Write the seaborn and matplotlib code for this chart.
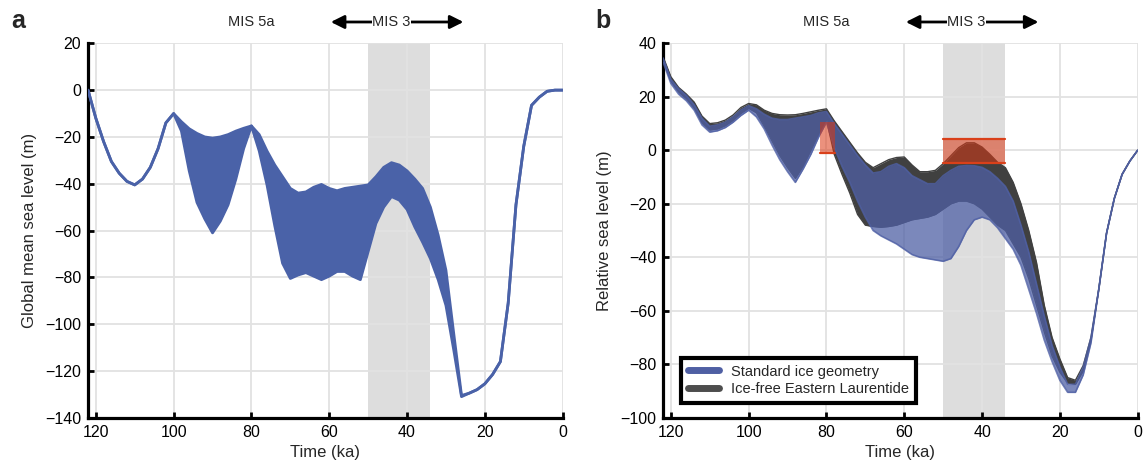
import matplotlib
matplotlib.use("Agg")
import matplotlib.pyplot as plt
import seaborn as sns
import pandas as pd
from matplotlib.lines import Line2D

# ====================
# DONNÉES
# ====================

temps = [122, 120, 118, 116, 114, 112, 110, 108, 106, 104, 102, 100,
         98, 96, 94, 92, 90, 88, 86, 84, 82, 80,
         78, 76, 74, 72, 70, 68, 66, 64, 62, 60,
         58, 56, 54, 52, 50, 48, 46, 44, 42, 40,
         38, 36, 34, 32, 30, 28, 26, 24, 22, 20,
         18, 16, 14, 12, 10, 8, 6, 4, 2, 0]

# panneau a : niveau marin global moyen, enveloppe de l'ensemble
gmsl_haut = [0, -12, -22, -30.5, -35.5, -39, -40.5, -38, -33, -25, -14, -10,
             -13.5, -16.5, -18.5, -20, -20.5, -20, -19, -17.5, -16.3, -15.3,
             -19, -26, -32, -37, -42, -44, -43.5, -41.5, -40.3, -42,
             -43, -42, -41.5, -41, -40.5, -37, -33, -31, -32, -34.5,
             -38, -42, -50, -62, -77, -104, -130.5, -129.5, -128, -125.5,
             -121.5, -116, -91, -49, -24, -6.5, -3, -0.5, 0, 0]
gmsl_bas = [0, -12, -22, -30.5, -35.5, -39, -40.5, -38, -33, -25, -14, -10,
            -17.5, -34.5, -48, -55, -61, -56, -49, -38, -25, -15.3,
            -26, -40.5, -58, -74, -80.5, -79, -78, -79.5, -81, -79.5,
            -77.5, -77.5, -79.5, -81, -69, -57, -50, -45.5, -47, -51,
            -58.5, -65, -72, -81, -92, -111, -131, -129.5, -128, -125.5,
            -121.5, -116, -91, -49, -24, -6.5, -3, -0.5, 0, 0]

# panneau b : niveau marin relatif, géométrie standard (bleu)
std_haut = [34.5, 26.5, 23, 20.5, 17, 12, 9, 9.5, 10.5, 12.5, 15, 16.7,
            15.5, 13.5, 12, 11.5, 11.5, 12, 12.5, 13, 14, 14.5,
            10, 6, 2, -2, -5.5, -8.5, -8, -6, -5, -6.5,
            -9.5, -11, -12.5, -12.5, -9.5, -7.5, -6, -5.7, -5.8, -6.4,
            -8, -10.5, -13.5, -19, -28, -38, -50, -62, -73, -81,
            -87.5, -87.5, -81, -70, -52, -31, -18, -9, -4, 0]
std_bas = [33, 25, 21, 18.5, 15, 9.5, 6.8, 7.3, 8.5, 10.5, 13, 15,
           12.5, 8, 2, -3.5, -8, -12, -7, -1.5, 5, 10.5,
           1, -6, -12, -19, -25, -30, -32, -33.5, -35, -37,
           -39, -40, -40.5, -41, -41.5, -40.5, -36, -30, -26, -25,
           -26, -29, -33, -37, -43, -52, -61, -71, -79, -86,
           -90.5, -90.5, -84, -72, -52, -31, -18, -9, -4, 0]

# panneau b : Laurentide orientale sans glace (gris)
glace_haut = [35, 27.5, 23.5, 21, 18, 12.8, 10, 10.3, 11.3, 13.2, 16, 17.5,
              17, 15, 13.8, 13.3, 13.2, 13.3, 13.8, 14.4, 15, 15.5,
              11, 7, 3, -1, -4.5, -6.5, -5, -3.5, -2.7, -2.5,
              -5.5, -8, -8, -7.5, -5, -2, 1, 2.8, 2.8, 1.2,
              -1.5, -4.5, -6.5, -12, -20, -30, -42, -58, -70, -78,
              -85, -86, -80.5, -70, -52, -31, -18, -9, -4, 0]
glace_bas = [33.5, 25.8, 21.8, 19.3, 15.8, 10.3, 7.6, 8, 9.2, 11.2, 13.8, 15.7,
             14, 9, 3.5, -2, -6.5, -10.5, -6, 0, 6, 11.5,
             -1.5, -9, -16, -24, -28, -28.5, -28.8, -28.5, -28, -27,
             -26, -25.5, -25, -24, -22, -20, -19, -19, -20, -22,
             -25, -28, -30, -35, -40, -48, -58, -68, -77, -83,
             -87, -87.5, -82.5, -71, -52, -31, -18, -9, -4, 0]

# fenêtre MIS 3 (ka) et contraintes de terrain (ka début, ka fin, bas, haut)
mis3 = (50, 34)
boite_5a = (81.7, 77.9, -1.1, 10.7)
boite_3 = (50, 34, -4.6, 4.4)

# ====================
# CONFIGURATION
# ====================

sns.set_style("white")
plt.rcParams["font.family"] = ["Liberation Sans", "DejaVu Sans"]

BLEU_A = "#4a62a8"
BLEU_B = "#4f60a5"
GRIS = "#404040"
ROUGE = "#db3713"
TRAIT_ROUGE = "#d9401a"

df_a = pd.DataFrame({"temps": temps, "haut": gmsl_haut, "bas": gmsl_bas})
df_b = pd.DataFrame({"temps": temps, "std_haut": std_haut, "std_bas": std_bas,
                     "glace_haut": glace_haut, "glace_bas": glace_bas})


def styliser_axe(ax, ylim, yticks):
    """Axes façon figure de revue : axes gauche/bas épais, grille claire"""
    ax.set_xlim(122, 0)
    ax.set_ylim(*ylim)
    ax.set_xticks(range(120, -1, -20))
    ax.set_yticks(yticks)
    ax.set_yticklabels([str(v).replace("-", "\u2212") for v in yticks])
    ax.grid(True, color="#e2e2e2", lw=1.3)
    ax.set_axisbelow(True)
    for s in ["top", "right"]:
        ax.spines[s].set_visible(False)
    for s in ["left", "bottom"]:
        ax.spines[s].set_linewidth(2.3)
        ax.spines[s].set_color("black")
    ax.tick_params(bottom=True, left=True, direction="in", length=4.5, width=2,
                   labelsize=11.5, pad=5, colors="black")
    ax.axvspan(*mis3, color="#dddddd", lw=0, zorder=0.1)


def annoter_mis(ax):
    """Étiquettes MIS 5a / MIS 3 au-dessus du panneau"""
    y = 1.057
    ax.text(80, y, "MIS 5a", transform=ax.get_xaxis_transform(),
            ha="center", va="center", fontsize=10.5)
    ax.annotate("", xy=(59.6, y), xytext=(25.5, y),
                xycoords=ax.get_xaxis_transform(),
                textcoords=ax.get_xaxis_transform(),
                arrowprops=dict(arrowstyle="<|-|>", color="black", lw=2,
                                mutation_scale=20, shrinkA=0, shrinkB=0),
                annotation_clip=False)
    ax.text(44, y, "MIS 3", transform=ax.get_xaxis_transform(),
            ha="center", va="center", fontsize=10.5,
            bbox=dict(facecolor="white", edgecolor="none", pad=0.5))


# ====================
# FIGURE
# ====================

fig = plt.figure(figsize=(11.45, 4.72), dpi=100)
ax_a = fig.add_axes([0.0769, 0.115, 0.4145, 0.7932])
ax_b = fig.add_axes([0.5791, 0.115, 0.4145, 0.7932])

# --- panneau a ---
styliser_axe(ax_a, (-140, 20), list(range(20, -141, -20)))
ax_a.fill_between(df_a["temps"], df_a["bas"], df_a["haut"],
                  color=BLEU_A, lw=0, zorder=2)
for col in ["haut", "bas"]:
    sns.lineplot(data=df_a, x="temps", y=col, ax=ax_a, color=BLEU_A,
                 lw=2, sort=False, zorder=3)
ax_a.set_ylabel("Global mean sea level (m)", fontsize=12, labelpad=6)
ax_a.set_xlabel("Time (ka)", fontsize=12, labelpad=4)
annoter_mis(ax_a)

# --- panneau b ---
styliser_axe(ax_b, (-100, 40), list(range(40, -101, -20)))
ax_b.fill_between(df_b["temps"], df_b["glace_bas"], df_b["glace_haut"],
                  color=GRIS, lw=0, zorder=2)
for col in ["glace_haut", "glace_bas"]:
    sns.lineplot(data=df_b, x="temps", y=col, ax=ax_b, color=GRIS,
                 lw=1, sort=False, zorder=2)
ax_b.fill_between(df_b["temps"], df_b["std_bas"], df_b["std_haut"],
                  color=BLEU_B, alpha=0.75, lw=0, zorder=3)
for col in ["std_haut", "std_bas"]:
    sns.lineplot(data=df_b, x="temps", y=col, ax=ax_b, color=BLEU_B,
                 alpha=0.8, lw=1.2, sort=False, zorder=3)

# contraintes de niveau marin (boîtes rouges)
t0, t1, bas, haut = boite_5a
ax_b.fill_between([t0, t1], [bas, bas], [haut, haut], color=ROUGE,
                  alpha=0.55, lw=0, zorder=4)
ax_b.plot([t0, t1], [bas, bas], color=TRAIT_ROUGE, lw=1.6, zorder=5)
t0, t1, bas, haut = boite_3
ax_b.fill_between([t0, t1], [bas, bas], [haut, haut], color=ROUGE,
                  alpha=0.55, lw=0, zorder=4)
ax_b.plot([t0, t1], [bas, bas], color=TRAIT_ROUGE, lw=1.6, zorder=5)
ax_b.plot([t0, t1], [haut, haut], color=TRAIT_ROUGE, lw=1.6, zorder=5)

ax_b.set_ylabel("Relative sea level (m)", fontsize=12, labelpad=6)
ax_b.set_xlabel("Time (ka)", fontsize=12, labelpad=4)
annoter_mis(ax_b)

poignees = [Line2D([0], [0], color="#4f5fa3", lw=5),
            Line2D([0], [0], color="#4d4d4d", lw=5)]
leg = ax_b.legend(poignees, ["Standard ice geometry", "Ice-free Eastern Laurentide"],
                  loc="lower left", bbox_to_anchor=(0.0386, 0.04), borderaxespad=0,
                  fontsize=10.5, frameon=True, fancybox=False, framealpha=1,
                  handlelength=2.1, handletextpad=0.85, labelspacing=0.25,
                  borderpad=0.45)
leg.get_frame().set_edgecolor("black")
leg.get_frame().set_linewidth(3)
leg.set_zorder(10)

# lettres des panneaux
fig.text(0.0096, 0.9407, "a", fontsize=18, fontweight="bold", va="baseline")
fig.text(0.5197, 0.9407, "b", fontsize=18, fontweight="bold", va="baseline")

fig.savefig("out.png", dpi=100)
